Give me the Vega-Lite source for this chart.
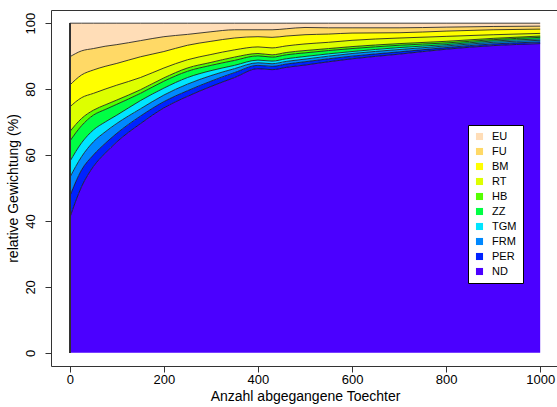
{
  "$schema": "https://vega.github.io/schema/vega-lite/v6.json",
  "width": 508,
  "height": 356,
  "autosize": {"type": "none"},
  "padding": {"left": 51, "top": 10, "right": 0, "bottom": 41},
  "background": "white",
  "config": {
    "font": "Liberation Sans",
    "view": {"stroke": "#333333", "strokeWidth": 1}
  },
  "datasets": {
    "w": [
      {"x": 0, "ND": 41, "PER": 6.5, "FRM": 5.7, "TGM": 4.8, "ZZ": 6.2, "HB": 2.9, "RT": 7.5, "BM": 6.6, "FU": 8.6, "EU": 10.2},
      {"x": 25, "ND": 50.4, "PER": 5.1, "FRM": 4.0, "TGM": 4.2, "ZZ": 5.2, "HB": 2.2, "RT": 6.3, "BM": 6.9, "FU": 7.3, "EU": 8.4},
      {"x": 50, "ND": 56.5, "PER": 3.5, "FRM": 4.0, "TGM": 3.6, "ZZ": 4.5, "HB": 1.5, "RT": 5.1, "BM": 7.1, "FU": 6.5, "EU": 7.7},
      {"x": 75, "ND": 60.5, "PER": 3.0, "FRM": 3.5, "TGM": 3.0, "ZZ": 3.8, "HB": 1.4, "RT": 4.8, "BM": 6.9, "FU": 6.1, "EU": 7.0},
      {"x": 100, "ND": 64, "PER": 2.6, "FRM": 3.0, "TGM": 2.5, "ZZ": 3.3, "HB": 1.3, "RT": 4.5, "BM": 6.6, "FU": 5.7, "EU": 6.5},
      {"x": 150, "ND": 69.5, "PER": 2.3, "FRM": 2.2, "TGM": 2.5, "ZZ": 2.2, "HB": 1.1, "RT": 3.7, "BM": 6.3, "FU": 4.9, "EU": 5.3},
      {"x": 200, "ND": 74.3, "PER": 1.9, "FRM": 2.0, "TGM": 2.1, "ZZ": 2.1, "HB": 1.0, "RT": 3.0, "BM": 5.0, "FU": 4.5, "EU": 4.1},
      {"x": 250, "ND": 77.8, "PER": 1.7, "FRM": 2.0, "TGM": 2.0, "ZZ": 1.9, "HB": 1.0, "RT": 2.5, "BM": 4.4, "FU": 3.3, "EU": 3.4},
      {"x": 300, "ND": 80.8, "PER": 1.6, "FRM": 1.7, "TGM": 1.5, "ZZ": 1.6, "HB": 0.9, "RT": 2.4, "BM": 4.0, "FU": 2.9, "EU": 2.6},
      {"x": 350, "ND": 83.5, "PER": 1.5, "FRM": 1.2, "TGM": 1.0, "ZZ": 1.5, "HB": 1.0, "RT": 2.2, "BM": 3.6, "FU": 2.5, "EU": 2.0},
      {"x": 400, "ND": 86.2, "PER": 1.0, "FRM": 0.8, "TGM": 0.8, "ZZ": 1.3, "HB": 0.7, "RT": 2.0, "BM": 3.1, "FU": 2.1, "EU": 2.0},
      {"x": 430, "ND": 85.9, "PER": 1.0, "FRM": 0.8, "TGM": 0.8, "ZZ": 1.2, "HB": 0.7, "RT": 2.1, "BM": 3.2, "FU": 2.3, "EU": 2.0},
      {"x": 460, "ND": 86.6, "PER": 1.0, "FRM": 0.8, "TGM": 0.8, "ZZ": 1.2, "HB": 0.7, "RT": 2.0, "BM": 3.0, "FU": 2.2, "EU": 1.7},
      {"x": 500, "ND": 87.3, "PER": 1.0, "FRM": 0.8, "TGM": 0.8, "ZZ": 1.1, "HB": 0.7, "RT": 2.0, "BM": 2.8, "FU": 2.2, "EU": 1.3},
      {"x": 550, "ND": 88.3, "PER": 0.9, "FRM": 0.8, "TGM": 0.7, "ZZ": 1.0, "HB": 0.6, "RT": 1.9, "BM": 2.5, "FU": 1.9, "EU": 1.4},
      {"x": 600, "ND": 89.2, "PER": 0.8, "FRM": 0.8, "TGM": 0.6, "ZZ": 0.9, "HB": 0.6, "RT": 1.9, "BM": 2.2, "FU": 1.6, "EU": 1.4},
      {"x": 700, "ND": 90.6, "PER": 0.7, "FRM": 0.7, "TGM": 0.6, "ZZ": 0.7, "HB": 0.5, "RT": 1.7, "BM": 1.6, "FU": 1.5, "EU": 1.4},
      {"x": 800, "ND": 92.1, "PER": 0.5, "FRM": 0.5, "TGM": 0.4, "ZZ": 0.5, "HB": 0.5, "RT": 1.5, "BM": 1.6, "FU": 1.2, "EU": 1.2},
      {"x": 900, "ND": 93.2, "PER": 0.5, "FRM": 0.5, "TGM": 0.4, "ZZ": 0.4, "HB": 0.4, "RT": 1.1, "BM": 1.5, "FU": 1.0, "EU": 1.0},
      {"x": 1000, "ND": 93.8, "PER": 0.5, "FRM": 0.5, "TGM": 0.4, "ZZ": 0.5, "HB": 0.4, "RT": 0.8, "BM": 1.3, "FU": 0.9, "EU": 0.9}
    ]
  },
  "data": {"name": "w"},
  "transform": [
    {"fold": ["ND", "PER", "FRM", "TGM", "ZZ", "HB", "RT", "BM", "FU", "EU"], "as": ["cat", "v"]},
    {"calculate": "indexof(['ND','PER','FRM','TGM','ZZ','HB','RT','BM','FU','EU'], datum.cat)", "as": "o"},
    {"stack": "v", "groupby": ["x"], "sort": [{"field": "o", "order": "ascending"}], "as": ["y0", "y1"]}
  ],
  "layer": [
    {
      "mark": {"type": "area", "interpolate": "monotone"},
      "encoding": {
        "x": {
          "field": "x", "type": "quantitative",
          "scale": {"domain": [-40, 1040], "nice": false, "zero": false},
          "axis": {
            "values": [0, 200, 400, 600, 800, 1000], "format": "d",
            "domain": false, "grid": false,
            "tickSize": 6, "tickColor": "#333333",
            "labelFontSize": 13, "labelColor": "black", "labelPadding": 1,
            "title": "Anzahl abgegangene Toechter",
            "titleFontSize": 14, "titleFontWeight": "normal", "titleColor": "black", "titlePadding": 3
          }
        },
        "y": {
          "field": "y1", "type": "quantitative",
          "scale": {"domain": [-4, 104], "nice": false, "zero": false},
          "axis": {
            "values": [0, 20, 40, 60, 80, 100],
            "domain": false, "grid": false,
            "tickSize": 6, "tickColor": "#333333",
            "labelFontSize": 13, "labelColor": "black", "labelAngle": -90,
            "labelAlign": "center", "labelBaseline": "bottom", "labelPadding": 8,
            "title": "relative Gewichtung (%)",
            "titleFontSize": 14, "titleFontWeight": "normal", "titleColor": "black", "titlePadding": 4
          }
        },
        "y2": {"field": "y0"},
        "color": {
          "field": "cat", "type": "nominal",
          "scale": {
            "domain": ["EU", "FU", "BM", "RT", "HB", "ZZ", "TGM", "FRM", "PER", "ND"],
            "range": ["#FFDDB7", "#FFD966", "#FFFF00", "#DDFF00", "#55FF00", "#00FF44", "#00E5FF", "#0088FF", "#0022FF", "#4B00FF"]
          },
          "legend": {
            "title": null, "orient": "none", "legendX": 417, "legendY": 115,
            "fillColor": "white", "strokeColor": "black", "padding": 6,
            "symbolType": "square", "symbolSize": 50, "symbolStrokeWidth": 0,
            "labelFontSize": 11, "labelColor": "black", "labelOffset": 7, "rowPadding": 3
          }
        },
        "order": {"field": "o", "type": "quantitative"}
      }
    },
    {
      "mark": {"type": "line", "interpolate": "monotone", "color": "#111111", "strokeWidth": 0.8},
      "encoding": {
        "x": {"field": "x", "type": "quantitative"},
        "y": {"field": "y1", "type": "quantitative"},
        "detail": {"field": "cat", "type": "nominal"}
      }
    },
    {
      "mark": {"type": "rule", "color": "#333333", "strokeWidth": 0.8},
      "encoding": {
        "x": {"datum": 0},
        "y": {"datum": 0},
        "y2": {"datum": 100}
      }
    }
  ]
}
